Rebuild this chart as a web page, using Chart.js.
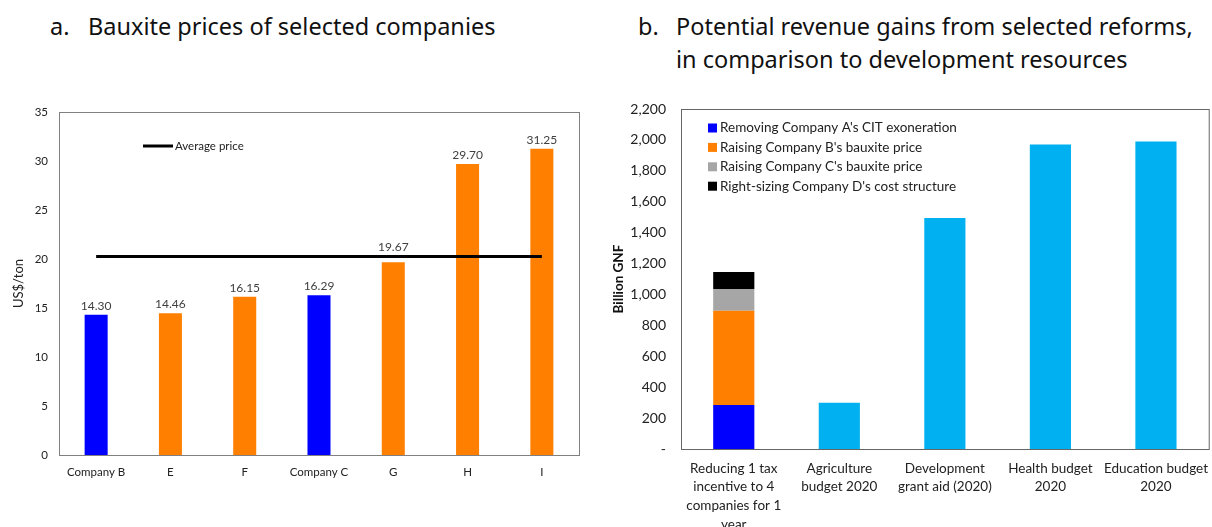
<!DOCTYPE html>
<html>
<head>
<meta charset="utf-8">
<script src="https://cdn.jsdelivr.net/npm/chart.js@4/dist/chart.umd.min.js"></script>
<style>
    html, body { margin: 0; padding: 0; background: #fff; overflow: hidden; width: 1212px; height: 527px; }
    .title { position: absolute; font-family: 'Noto Sans', sans-serif; font-size: 23.5px; color: #111; line-height: 33px; }
    .title .num { position: absolute; left: 0; }
    .title .txt { position: absolute; white-space: nowrap; }
    #leftBox { position: absolute; left: 0; top: 0; width: 600px; height: 527px; }
    #rightBox { position: absolute; left: 600px; top: 0; width: 618px; height: 527px; }
</style>
</head>
<body>
<div class="title" style="left:50px; top:10px;"><span class="num">a.</span><span class="txt" style="left:38px;">Bauxite prices of selected companies</span></div>
<div class="title" style="left:638px; top:10px;"><span class="num">b.</span><span class="txt" style="left:38px;">Potential revenue gains from selected reforms,<br>in comparison to development resources</span></div>
<div id="leftBox"><canvas id="priceChart"></canvas></div>
<div id="rightBox"><canvas id="revenueChart"></canvas></div>
<script>
const priceCategories = ['Company B', 'E', 'F', 'Company C', 'G', 'H', 'I'];
const bauxitePrices = [14.30, 14.46, 16.15, 16.29, 19.67, 29.70, 31.25];
const averagePrice = [20.26, 20.26, 20.26, 20.26, 20.26, 20.26, 20.26];
const highlighted = ['Company B', 'Company C'];

const revenueCategories = [
    ['Reducing 1 tax', 'incentive to 4', 'companies for 1', 'year'],
    ['Agriculture', 'budget 2020'],
    ['Development', 'grant aid (2020)'],
    ['Health budget', '2020'],
    ['Education budget', '2020']
];
const reformLabels = [
    "Removing Company A's CIT exoneration",
    "Raising Company B's bauxite price",
    "Raising Company C's bauxite price",
    "Right-sizing Company D's cost structure"
];
const reformGains = [285, 610, 140, 110];
const resourceValues = [null, 300, 1495, 1970, 1990];

const blue = '#0000ff';
const orange = '#ff8000';
const grey = '#a6a6a6';
const skyBlue = '#00b0f0';
const chartFont = 'Lato';

// box around plot area
const frame = {
    id: 'frame',
    afterDatasetsDraw(chart, args, opts) {
        const { ctx, chartArea: a } = chart;
        ctx.save();
        ctx.strokeStyle = opts.color;
        ctx.lineWidth = 1;
        ctx.strokeRect(a.left + 0.5, a.top + 0.5, a.right - a.left, a.bottom - a.top);
        ctx.restore();
    }
};

// value labels above bars, nudged above the average line when they would cross it
const valueLabels = {
    id: 'valueLabels',
    afterDatasetsDraw(chart) {
        const { ctx } = chart;
        const meta = chart.getDatasetMeta(0);
        const lineMeta = chart.getDatasetMeta(1);
        ctx.save();
        ctx.font = '12px ' + chartFont;
        ctx.fillStyle = '#404040';
        ctx.textAlign = 'center';
        ctx.textBaseline = 'bottom';
        meta.data.forEach((bar, i) => {
            let y = bar.y - 3;
            const lineY = lineMeta.data[i].y;
            if (y > lineY - 2 && y - 13 < lineY + 2) y = lineY - 3;
            ctx.fillText(chart.data.datasets[0].data[i].toFixed(2), bar.x, y);
        });
        ctx.restore();
    }
};

// legend drawn inside the plot area
const innerLegend = {
    id: 'innerLegend',
    afterDraw(chart, args, opts) {
        const { ctx, chartArea: a } = chart;
        ctx.save();
        ctx.font = opts.size + 'px ' + chartFont;
        ctx.textBaseline = 'middle';
        let y = a.top + opts.top;
        chart.data.datasets.forEach(ds => {
            if (ds.hideInLegend) return;
            const x = a.left + opts.left;
            if (ds.type === 'line') {
                ctx.strokeStyle = ds.borderColor;
                ctx.lineWidth = 3;
                ctx.beginPath();
                ctx.moveTo(x, y);
                ctx.lineTo(x + 30, y);
                ctx.stroke();
                ctx.fillStyle = '#222';
                ctx.fillText(ds.label, x + 32, y);
            } else {
                ctx.fillStyle = ds.backgroundColor;
                ctx.fillRect(x, y - 4.5, 9, 9);
                ctx.fillStyle = '#222';
                ctx.fillText(ds.label, x + 12, y);
            }
            y += opts.step;
        });
        ctx.restore();
    }
};

function initPriceChart() {
    const ctx = document.getElementById('priceChart').getContext('2d');
    new Chart(ctx, {
        data: {
            labels: priceCategories,
            datasets: [{
                type: 'bar',
                label: 'Price',
                data: bauxitePrices,
                backgroundColor: priceCategories.map(c => highlighted.includes(c) ? blue : orange),
                barPercentage: 0.31,
                categoryPercentage: 1,
                hideInLegend: true,
                order: 2
            }, {
                type: 'line',
                label: 'Average price',
                data: averagePrice,
                borderColor: '#000',
                borderWidth: 3,
                pointRadius: 0,
                fill: false,
                order: 1
            }]
        },
        options: {
            responsive: true,
            maintainAspectRatio: false,
            animation: false,
            layout: { padding: { top: 112, right: 21, left: 0, bottom: 0 } },
            plugins: {
                legend: { display: false },
                tooltip: { enabled: false },
                frame: { color: '#808080' },
                innerLegend: { left: 84, top: 34, step: 20, size: 11.5 }
            },
            scales: {
                x: {
                    grid: { display: false, drawTicks: false },
                    border: { display: false },
                    ticks: { color: '#222', font: { family: chartFont, size: 11.5 }, padding: 10, maxRotation: 0 },
                    afterFit(s) { s.height = 72; }
                },
                y: {
                    min: 0,
                    max: 35,
                    grid: { display: false, drawTicks: false },
                    border: { display: false },
                    ticks: { stepSize: 5, color: '#222', font: { family: chartFont, size: 11.5 }, padding: 11 },
                    title: { display: true, text: 'US$/ton', color: '#222', font: { family: chartFont, size: 13 }, padding: { top: 11, bottom: 0 } },
                    afterFit(s) { s.width = 59; }
                }
            }
        },
        plugins: [frame, valueLabels, innerLegend]
    });
}

function initRevenueChart() {
    const ctx = document.getElementById('revenueChart').getContext('2d');
    const reformColors = [blue, orange, grey, '#000'];
    const datasets = reformLabels.map((label, i) => ({
        type: 'bar',
        label: label,
        data: revenueCategories.map((c, j) => j === 0 ? reformGains[i] : null),
        backgroundColor: reformColors[i]
    }));
    datasets.push({
        type: 'bar',
        label: 'Resources',
        data: resourceValues,
        backgroundColor: skyBlue,
        hideInLegend: true
    });
    datasets.forEach(ds => { ds.barPercentage = 0.39; ds.categoryPercentage = 1; });

    new Chart(ctx, {
        data: { labels: revenueCategories, datasets: datasets },
        options: {
            responsive: true,
            maintainAspectRatio: false,
            animation: false,
            layout: { padding: { top: 109, right: 0, left: 0, bottom: 0 } },
            plugins: {
                legend: { display: false },
                tooltip: { enabled: false },
                frame: { color: '#666' },
                innerLegend: { left: 27, top: 19, step: 19.4, size: 13.5 }
            },
            scales: {
                x: {
                    stacked: true,
                    grid: { display: false, drawTicks: false },
                    border: { display: false },
                    ticks: { color: '#222', font: { family: chartFont, size: 13.5, lineHeight: 1.38 }, padding: 10, maxRotation: 0 },
                    afterFit(s) { s.height = 78; }
                },
                y: {
                    stacked: true,
                    min: 0,
                    max: 2200,
                    grid: { display: false, drawTicks: false },
                    border: { display: false },
                    ticks: {
                        stepSize: 200,
                        color: '#222',
                        font: { family: chartFont, size: 14 },
                        padding: 15,
                        callback: v => v === 0 ? '-' : v.toLocaleString('en-US')
                    },
                    title: { display: true, text: 'Billion GNF', color: '#111', font: { family: chartFont, size: 13.5, weight: 'bold' }, padding: { top: 11, bottom: 0 } },
                    afterFit(s) { s.width = 81; }
                }
            }
        },
        plugins: [frame, innerLegend]
    });
}

document.addEventListener('DOMContentLoaded', () => {
    initPriceChart();
    initRevenueChart();
});
</script>
</body>
</html>
